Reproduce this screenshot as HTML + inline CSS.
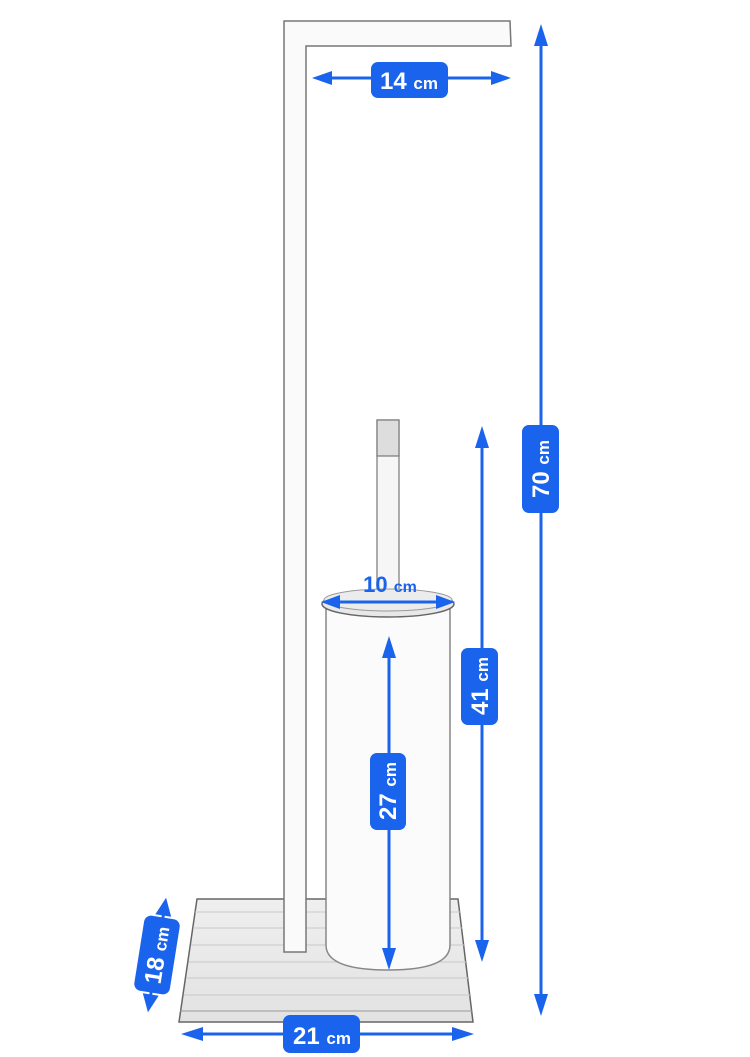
<!DOCTYPE html>
<html><head><meta charset="utf-8"><style>
html,body{margin:0;padding:0;background:#fff;}
svg{display:block}
text{font-family:"Liberation Sans",sans-serif;font-weight:bold;fill:#fff}
</style></head><body>
<svg width="750" height="1057" viewBox="0 0 750 1057" xmlns="http://www.w3.org/2000/svg">
<defs>
<linearGradient id="wood" x1="0" y1="0" x2="0" y2="1">
<stop offset="0" stop-color="#efefef"/><stop offset="1" stop-color="#e2e2e2"/>
</linearGradient>
</defs>
<polygon points="197,899 458,899 473,1022 179,1022" fill="url(#wood)" stroke="#666" stroke-width="1.5"/>
<line x1="180" y1="1011" x2="472" y2="1011" stroke="#999" stroke-width="1"/>
<g stroke="#c8c8c8" stroke-width="1">
<line x1="195" y1="912" x2="460" y2="912"/><line x1="193" y1="928" x2="462" y2="928"/>
<line x1="191" y1="945" x2="464" y2="945"/><line x1="189" y1="962" x2="466" y2="962"/>
<line x1="187" y1="978" x2="468" y2="978"/><line x1="184" y1="995" x2="470" y2="995"/>
</g>
<path d="M284,21 L510,21 L511,46 L306,46 L306,952 L284,952 Z" fill="#fafafa" stroke="#777" stroke-width="1.5"/>
<rect x="377" y="420" width="22" height="175" fill="#f6f6f6" stroke="#777" stroke-width="1.2"/>
<rect x="377" y="420" width="22" height="36" fill="#ddd" stroke="#777" stroke-width="1.2"/>
<path d="M326,608 L326,945 Q326,970 388,970 Q450,970 450,945 L450,608 Z" fill="#fbfbfb" stroke="#888" stroke-width="1.5"/>
<ellipse cx="388" cy="604" rx="66" ry="13" fill="#e8e8e8" stroke="#666" stroke-width="1.5"/>
<ellipse cx="388" cy="600" rx="64" ry="11" fill="#ececec" stroke="#999" stroke-width="1"/>
<g fill="#1a63ec" stroke="#1a63ec">
<line x1="325" y1="78" x2="500" y2="78" stroke-width="3"/>
<polygon points="312,78 332,71 332,85" stroke="none"/>
<polygon points="511,78 491,71 491,85" stroke="none"/>
<rect x="371" y="62" width="77" height="36" rx="7" stroke="none"/>
<line x1="541" y1="40" x2="541" y2="1000" stroke-width="3"/>
<polygon points="541,24 534,46 548,46" stroke="none"/>
<polygon points="541,1016 534,994 548,994" stroke="none"/>
<rect x="522" y="425" width="37" height="88" rx="7" stroke="none"/>
<line x1="482" y1="440" x2="482" y2="948" stroke-width="3"/>
<polygon points="482,426 475,448 489,448" stroke="none"/>
<polygon points="482,962 475,940 489,940" stroke="none"/>
<rect x="461" y="648" width="37" height="77" rx="7" stroke="none"/>
<line x1="389" y1="650" x2="389" y2="955" stroke-width="3"/>
<polygon points="389,636 382,658 396,658" stroke="none"/>
<polygon points="389,970 382,948 396,948" stroke="none"/>
<rect x="370" y="753" width="36" height="77" rx="7" stroke="none"/>
<line x1="335" y1="602" x2="440" y2="602" stroke-width="3"/>
<polygon points="321,602 340,595 340,609" stroke="none"/>
<polygon points="455,602 436,595 436,609" stroke="none"/>
<line x1="195" y1="1034" x2="460" y2="1034" stroke-width="3"/>
<polygon points="181,1034 203,1027 203,1041" stroke="none"/>
<polygon points="474,1034 452,1027 452,1041" stroke="none"/>
<rect x="283" y="1015" width="77" height="38" rx="7" stroke="none"/>
<g transform="translate(157,955) rotate(-81)">
<line x1="-46" y1="0" x2="46" y2="0" stroke-width="3"/>
<polygon points="-58,0 -40,-8 -40,8" stroke="none"/>
<polygon points="58,0 40,-8 40,8" stroke="none"/>
<rect x="-38" y="-18" width="76" height="36" rx="7" stroke="none"/>
</g>
</g>
<text transform="translate(157,955) rotate(-81)" x="0" y="8" font-size="24" text-anchor="middle" style="fill:#fff;stroke:none">18 <tspan font-size="17">cm</tspan></text>
<text x="409" y="89" font-size="24" text-anchor="middle">14 <tspan font-size="17">cm</tspan></text>
<text x="322" y="1044" font-size="24" text-anchor="middle">21 <tspan font-size="17">cm</tspan></text>
<text x="390" y="592" font-size="22" text-anchor="middle" style="fill:#1a63ec">10 <tspan font-size="16">cm</tspan></text>
<text transform="translate(549,469) rotate(-90)" font-size="24" text-anchor="middle">70 <tspan font-size="17">cm</tspan></text>
<text transform="translate(488,686) rotate(-90)" font-size="24" text-anchor="middle">41 <tspan font-size="17">cm</tspan></text>
<text transform="translate(396,791) rotate(-90)" font-size="24" text-anchor="middle">27 <tspan font-size="17">cm</tspan></text>
</svg>
</body></html>
